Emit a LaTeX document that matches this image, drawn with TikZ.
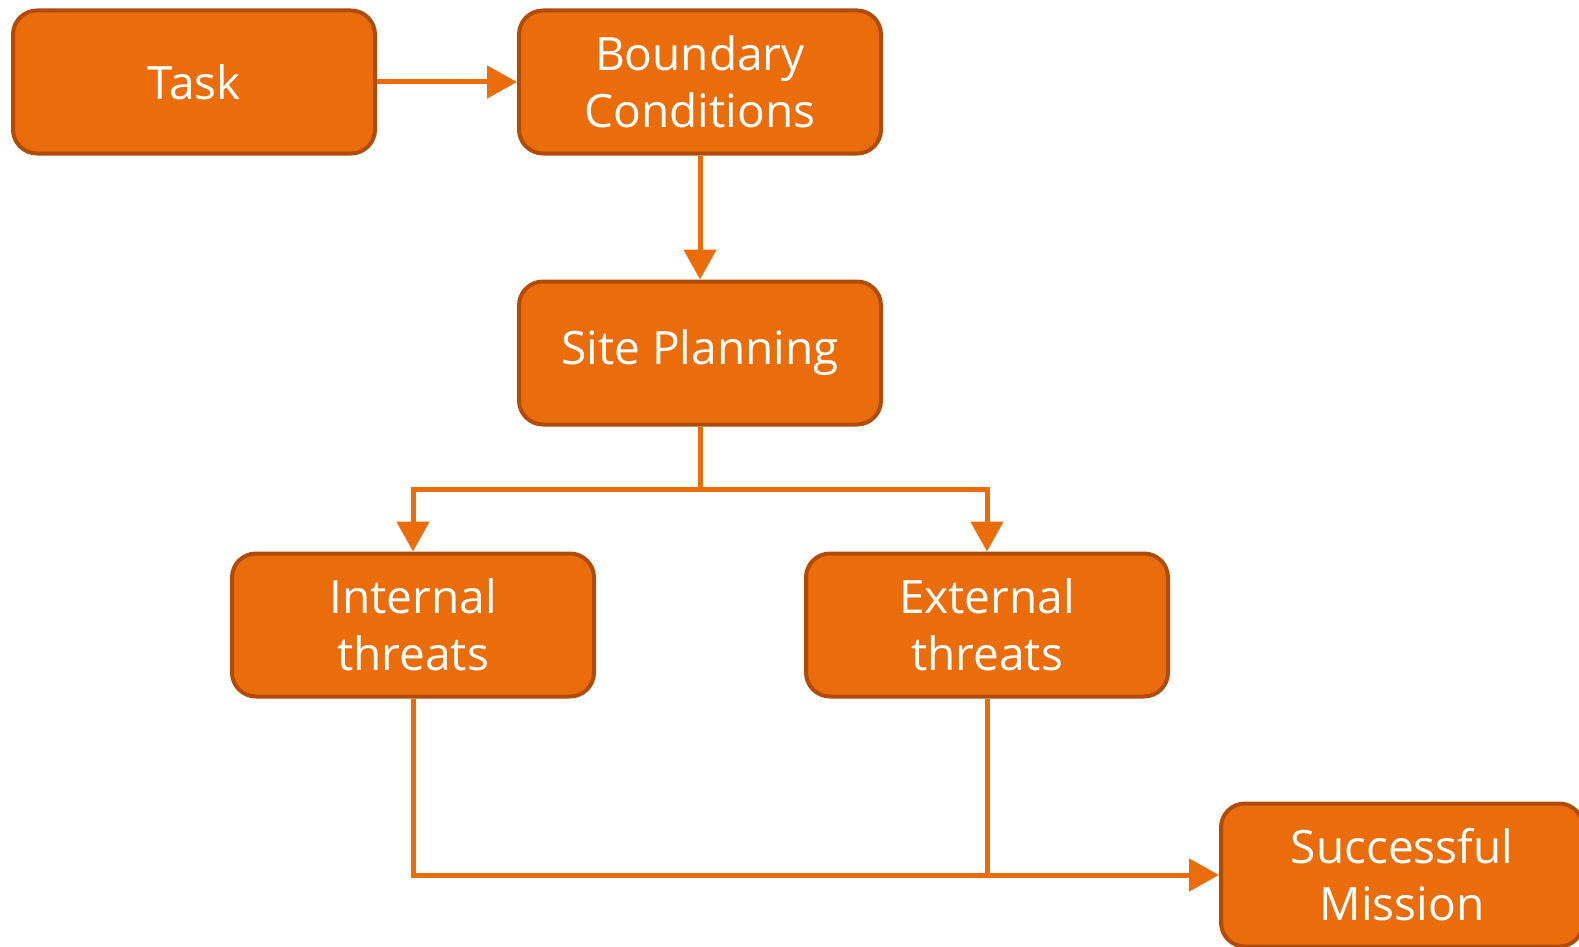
\documentclass[tikz,border=0pt]{standalone}
\usepackage{fontspec}
\setmainfont{Open Sans}
\usetikzlibrary{arrows.meta}
\definecolor{boxfill}{RGB}{234,108,11}
\definecolor{boxline}{RGB}{176,76,8}
\begin{document}
\begin{tikzpicture}[x=1pt,y=-1pt,
  stage/.style={draw=boxline,line width=4pt,fill=boxfill,rounded corners=24pt,
    minimum width=362pt,minimum height=143pt,inner sep=0pt,text=white,align=center,
    font=\fontsize{46}{57}\selectfont},
  flow/.style={draw=boxfill,line width=5pt,-{Triangle[length=30pt,width=32pt]}},
  link/.style={draw=boxfill,line width=5pt}]
\useasboundingbox (0,0) rectangle (1579,947);
\begin{scope}
\clip (0,0) rectangle (1579,947);
\node[stage] (task) at (194,82) {Task};
\node[stage] (bound) at (700,82) {Boundary\\Conditions};
\node[stage] (site) at (700,353) {Site Planning};
\node[stage] (int) at (413,625) {Internal\\threats};
\node[stage] (ext) at (987,625) {External\\threats};
\node[stage] (succ) at (1402,875) {Successful\\Mission};
\end{scope}
\coordinate (split) at (700,489);
\draw[flow] (task) -- (bound);
\draw[flow] (bound) -- (site);
\draw[link] (site.south) -- (split);
\draw[flow] (split) -| (int.north);
\draw[flow] (split) -| (ext.north);
\draw[flow] (int.south) |- (succ.west);
\draw[link] (ext.south) -- (ext.south |- succ.west);
\end{tikzpicture}
\end{document}
